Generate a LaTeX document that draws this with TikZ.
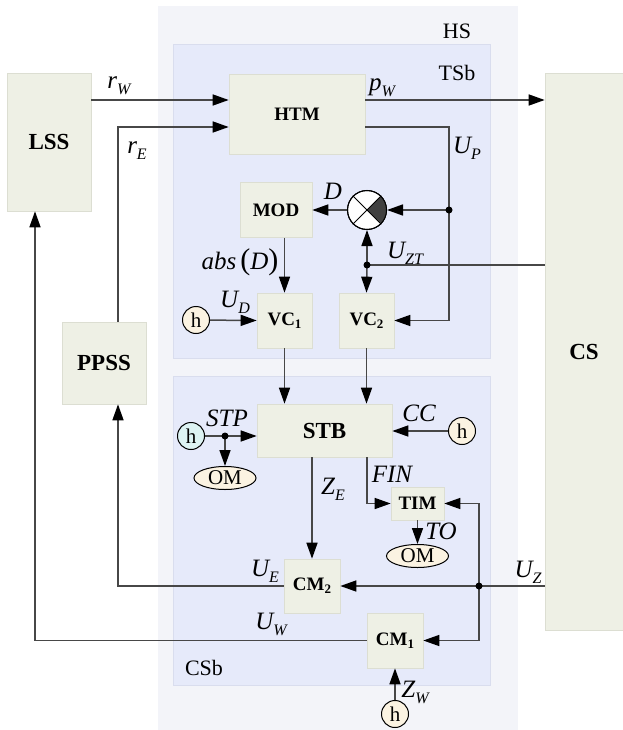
\documentclass[tikz,border=0pt]{standalone}
\usepackage{fontspec}
\setmainfont{Liberation Serif}
\usetikzlibrary{arrows.meta,shapes.geometric,calc}
\definecolor{hsbg}{HTML}{F3F4F9}
\definecolor{subbg}{HTML}{E6EAFA}
\definecolor{subbd}{HTML}{D9DDEE}
\definecolor{boxbg}{HTML}{EEF0E5}
\definecolor{boxbd}{HTML}{DCDED2}
\definecolor{hbg}{HTML}{FBF3E2}
\definecolor{hcy}{HTML}{DDF3F3}
\definecolor{lncol}{HTML}{474747}
\definecolor{quad}{HTML}{404040}
\newcommand\sbx[1]{\raisebox{-6pt}{\fontsize{16}{16}\selectfont\itshape #1}}
\newcommand\bsb[1]{\raisebox{-3pt}{\fontsize{13}{13}\selectfont\bfseries #1}}
\begin{document}
\begin{tikzpicture}[x=1pt,y=-1pt,
 box/.style={rectangle, fill=boxbg, draw=boxbd, line width=0.6pt, inner sep=0pt, font=\fontsize{19}{20}\selectfont\bfseries},
 bigbox/.style={box, font=\fontsize{23}{24}\selectfont\bfseries},
 hc/.style={circle, draw=black, line width=1pt, fill=hbg, minimum size=27pt, inner sep=0pt, font=\fontsize{21}{21}\selectfont},
 om/.style={ellipse, draw=black, line width=1pt, fill=hbg, minimum width=62pt, minimum height=23pt, inner sep=0pt, font=\fontsize{21}{21}\selectfont},
 lab/.style={inner sep=0pt, font=\fontsize{25}{26}\selectfont\itshape},
 reg/.style={inner sep=0pt, font=\fontsize{22}{23}\selectfont},
 wire/.style={draw=lncol, line width=1.5pt},
 arr/.style={wire, -{Triangle[length=16pt,width=11pt,color=black]}},
]
\useasboundingbox (0,0) rectangle (623,730);
% regions
\fill[hsbg] (158,6) rectangle (518,730);
\draw[fill=subbg, draw=subbd, line width=0.8pt] (173,44) rectangle (490,358);
\draw[fill=subbg, draw=subbd, line width=0.8pt] (173,376) rectangle (490,685);
\node[reg] (hsl) at (457,31) {HS};
\node[reg] (tsbl) at (457,73) {TSb};
\node[reg] (csbl) at (204,668) {CSb};

% boxes
\node[bigbox, minimum width=84pt, minimum height=138pt] (LSS) at (49,142) {LSS};
\node[bigbox, minimum width=84pt, minimum height=82pt] (PPSS) at (104,363) {PPSS};
\node[bigbox, minimum width=78pt, minimum height=557pt] (CS) at (584,351.5) {CS};
\node[box, minimum width=136pt, minimum height=80pt] (HTM) at (297,114) {HTM};
\node[box, minimum width=72pt, minimum height=55pt] (MOD) at (276,210) {MOD};
\node[box, minimum width=55pt, minimum height=55pt] (VC1) at (284.5,320.5) {VC\bsb{1}};
\node[box, minimum width=55pt, minimum height=55pt] (VC2) at (366.5,320.5) {VC\bsb{2}};
\node[bigbox, minimum width=135pt, minimum height=53pt] (STB) at (324.5,430.5) {STB};
\node[box, minimum width=53pt, minimum height=33pt] (TIM) at (417.5,503.5) {TIM};
\node[box, minimum width=56pt, minimum height=54pt] (CM2) at (312,586) {CM\bsb{2}};
\node[box, minimum width=56pt, minimum height=55pt] (CM1) at (395,640.5) {CM\bsb{1}};

% multiplier
\node[circle, draw=black, line width=1pt, fill=white, minimum size=39pt, inner sep=0pt] (mult) at (367,210) {};
\fill[quad] (mult.center) -- (mult.north east) arc[start angle=45, end angle=-45, radius=19.5pt] -- cycle;
\draw[line width=1pt] (mult.north east) -- (mult.south west);
\draw[line width=1pt] (mult.north west) -- (mult.south east);
\draw[line width=1pt] (mult.center) circle (19.5pt);

% h sources and OM
\node[hc] (h1) at (196,320) {h};
\node[hc, fill=hcy] (hS) at (191,436) {h};
\node[hc] (hC) at (462,431) {h};
\node[hc] (hZ) at (395,714) {h};
\node[om] (OM1) at (225,478) {OM};
\node[om] (OM2) at (417.5,556) {OM};

% coordinates
\coordinate (yW) at (0,100);
\coordinate (yE) at (0,127);
\coordinate (xE) at (118,0);
\coordinate (xW) at (35,0);
\coordinate (xF) at (367,0);
\coordinate (jP) at (449,210);
\coordinate (jZT) at (367,265);
\coordinate (jS) at (225,436);
\coordinate (jZ) at (479,586);

% connectors
\draw[arr] (LSS.east |- yW) -- (HTM.west |- yW);
\draw[arr] (HTM.east |- yW) -- (CS.west |- yW);
\draw[arr] (PPSS.north -| xE) |- (HTM.west |- yE);
\draw[arr] (HTM.east |- yE) -| (jP) |- (VC2.east);
\draw[arr] (jP) -- (mult.east);
\draw[arr] (mult.west) -- (MOD.east);
\draw[arr] (MOD.south -| VC1.north) -- (VC1.north);
\draw[wire] (CS.west |- jZT) -- (jZT);
\draw[arr] (jZT) -- (mult.south);
\draw[arr] (jZT) -- (VC2.north);
\draw[arr] (h1) -- (VC1.west);
\draw[arr] (VC1.south) -- (STB.north -| VC1.south);
\draw[arr] (VC2.south) -- (STB.north -| VC2.south);
\draw[arr] (hC) -- (STB.east |- hC);
\draw[arr] (hS) -- (STB.west |- hS);
\draw[arr] (jS) -- (OM1.north);
\draw[arr] (STB.south -| CM2.north) -- (CM2.north);
\draw[arr] (STB.south -| xF) |- (TIM.west);
\draw[arr] (TIM.south -| OM2.north) -- (OM2.north);
\draw[wire] (CS.west |- jZ) -- (jZ);
\draw[arr] (jZ) |- (TIM.east);
\draw[arr] (jZ) |- (CM1.east);
\draw[arr] (jZ) -- (CM2.east |- jZ);
\draw[arr] (CM2.west) -| (PPSS.south -| xE);
\draw[arr] (CM1.west) -| (LSS.south -| xW);
\draw[arr] (hZ) -- (CM1.south);

% junction dots
\foreach \j in {jP,jZT,jS,jZ} \fill[black] (\j) circle (3.5pt);

% labels
\node[lab] (lrw) at (119,86) {r\sbx{W}};
\node[lab] (lre) at (137,151) {r\sbx{E}};
\node[lab] (lpw) at (382,88) {p\sbx{W}};
\node[lab] (lup) at (467,148) {U\sbx{P}};
\node[lab] (ld) at (333,191) {D};
\node[lab] (luzt) at (405,253) {U\sbx{ZT}};
\node[lab] (labs) at (240,262) {abs\,{\upshape\fontsize{30}{30}\selectfont(}D{\upshape\fontsize{30}{30}\selectfont)}};
\node[lab] (lud) at (235,302) {U\sbx{D}};
\node[lab] (lstp) at (227,418) {STP};
\node[lab] (lcc) at (419,413) {CC};
\node[lab] (lze) at (333,489) {Z\sbx{E}};
\node[lab] (lfin) at (392,474) {FIN};
\node[lab] (lto) at (441,531) {TO};
\node[lab] (lue) at (265,571) {U\sbx{E}};
\node[lab] (luz) at (528,572) {U\sbx{Z}};
\node[lab] (luw) at (271,624) {U\sbx{W}};
\node[lab] (lzw) at (415,692) {Z\sbx{W}};
\end{tikzpicture}
\end{document}
